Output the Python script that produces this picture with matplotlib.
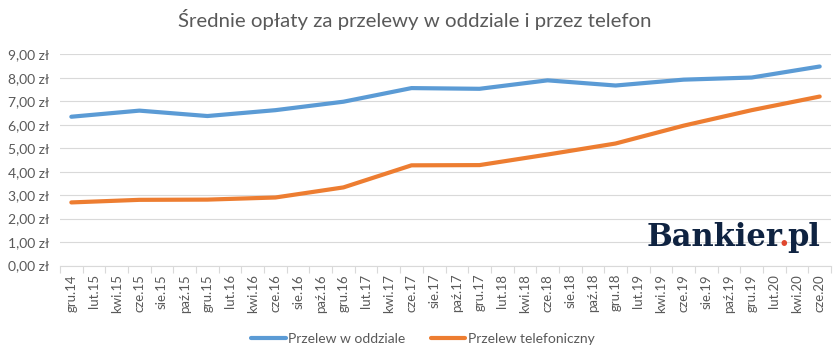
import numpy as np
import matplotlib.pyplot as plt

# etykiety osi X (co dwa miesiace)
etykiety = ["gru.14", "lut.15", "kwi.15", "cze.15", "sie.15", "paź.15",
            "gru.15", "lut.16", "kwi.16", "cze.16", "sie.16", "paź.16",
            "gru.16", "lut.17", "kwi.17", "cze.17", "sie.17", "paź.17",
            "gru.17", "lut.18", "kwi.18", "cze.18", "sie.18", "paź.18",
            "gru.18", "lut.19", "kwi.19", "cze.19", "sie.19", "paź.19",
            "gru.19", "lut.20", "kwi.20", "cze.20"]

# pomiary co pol roku
okresy = ["gru.14", "cze.15", "gru.15", "cze.16", "gru.16", "cze.17",
          "gru.17", "cze.18", "gru.18", "cze.19", "gru.19", "cze.20"]
oddzial = [6.34, 6.60, 6.37, 6.62, 6.98, 7.56, 7.53, 7.89, 7.67, 7.92, 8.01, 8.48]
telefon = [2.69, 2.80, 2.81, 2.90, 3.33, 4.27, 4.28, 4.73, 5.20, 5.96, 6.62, 7.20]

szary = "#595959"
plt.rcParams['font.family'] = ['Lato', 'DejaVu Sans']

fig = plt.figure(figsize=(8.39, 3.56), dpi=100)
ax = fig.add_axes([0.0715, 0.254, 0.919, 0.5935])

x = [etykiety.index(o) for o in okresy]
ax.plot(x, oddzial, color="#5b9bd5", lw=3, solid_capstyle='round',
        solid_joinstyle='round', label="Przelew w oddziale")
ax.plot(x, telefon, color="#ed7d31", lw=3, solid_capstyle='round',
        solid_joinstyle='round', label="Przelew telefoniczny")

ax.set_xlim(-0.5, len(etykiety) - 0.5)
ax.set_ylim(0, 9)
ax.set_yticks(range(10))
ax.set_yticklabels(["%d,00 zł" % v for v in range(10)], fontsize=10, color=szary)
ax.set_xticks(range(len(etykiety)))
ax.set_xticklabels(etykiety, rotation=90, fontsize=9.5, color=szary)
ax.tick_params(axis='x', which='major', length=0, pad=6)
ax.set_xticks(np.arange(-0.5, len(etykiety)), minor=True)
ax.tick_params(axis='x', which='minor', length=5, color="#d9d9d9", width=0.8)
ax.tick_params(axis='y', length=0, pad=8)

ax.grid(axis='y', color="#d9d9d9", lw=0.8)
ax.set_axisbelow(True)
for s in ['top', 'right', 'left']:
    ax.spines[s].set_visible(False)
ax.spines['bottom'].set_color("#d9d9d9")
ax.spines['bottom'].set_linewidth(0.8)

fig.text(0.494, 0.945, "Średnie opłaty za przelewy w oddziale i przez telefon",
         ha='center', va='center', fontsize=14.7, color=szary)

fig.legend(loc='center', bbox_to_anchor=(0.504, 0.048), ncol=2, frameon=False,
           fontsize=10, handlelength=2.5, handletextpad=0.2, columnspacing=1.8,
           labelcolor=szary)

# logo
styl = dict(fontsize=22, fontweight='bold', family='DejaVu Serif')
logo = fig.text(0.771, 0.288, "Bankier", color="#0f2341", ha='left', va='bottom', **styl)
kropka = ax.annotate(".", xy=(1, 0), xycoords=logo, xytext=(-3, 0),
                     textcoords='offset points', color="#e0472f",
                     ha='left', va='bottom', **styl)
ax.annotate("pl", xy=(1, 0), xycoords=kropka, xytext=(-1.5, 0),
            textcoords='offset points', color="#0f2341",
            ha='left', va='bottom', **styl)

plt.savefig("out.png", dpi=100)
